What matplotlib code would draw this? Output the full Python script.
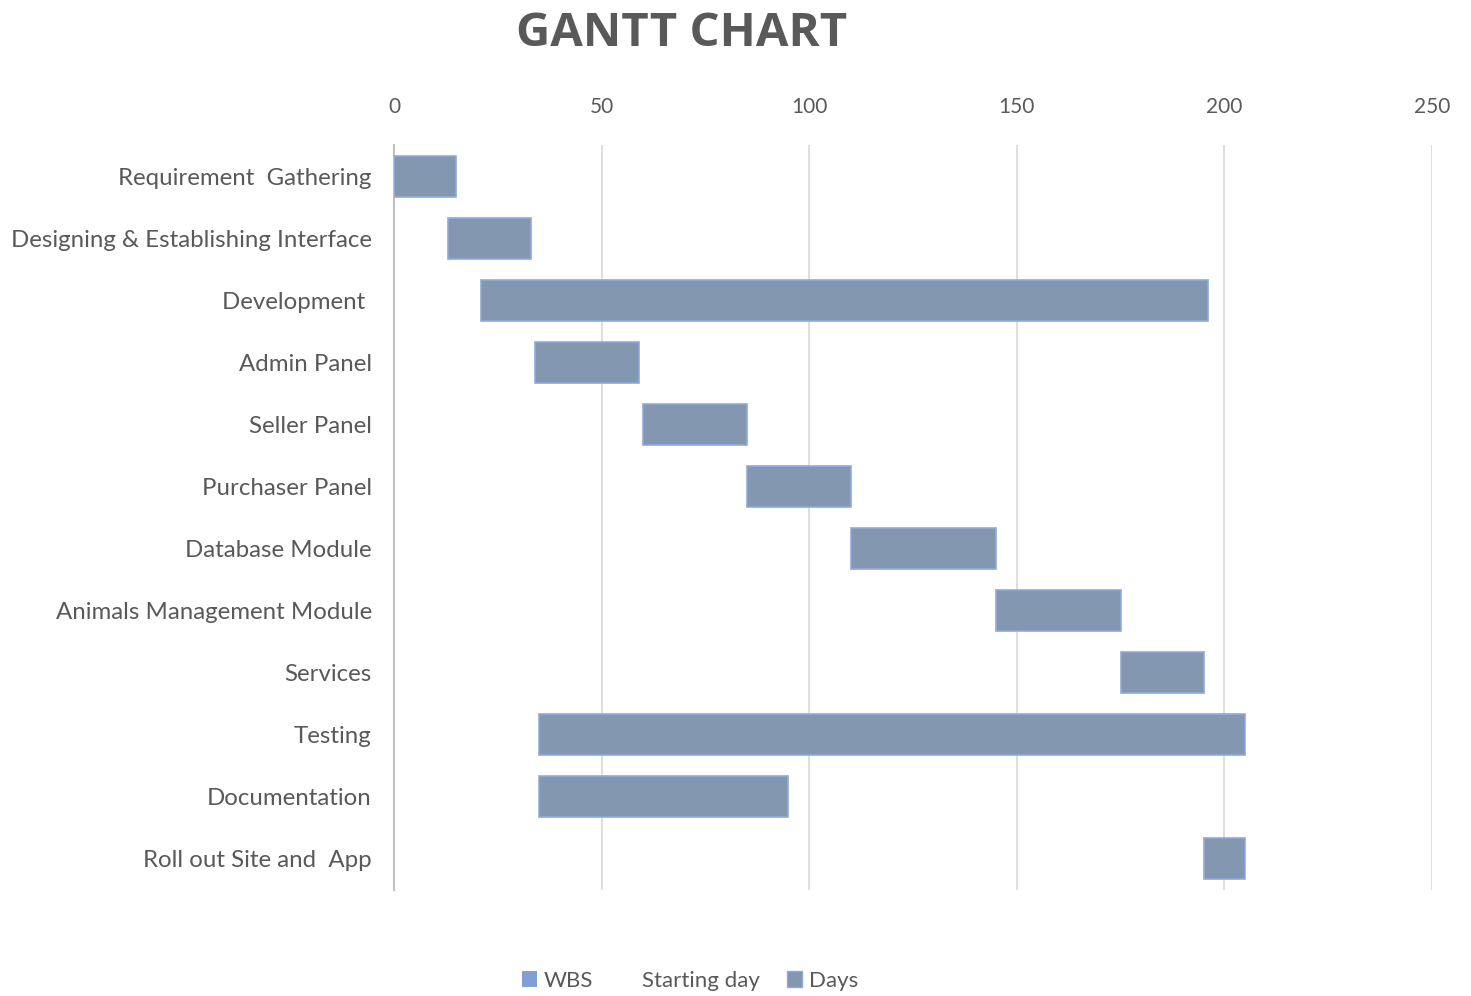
import matplotlib
matplotlib.use("Agg")
import matplotlib.pyplot as plt
from matplotlib.patches import Patch

tasks = ["Requirement  Gathering", "Designing & Establishing Interface", "Development ",
         "Admin Panel", "Seller Panel", "Purchaser Panel", "Database Module",
         "Animals Management Module", "Services", "Testing", "Documentation",
         "Roll out Site and  App"]
start_day = [0, 13, 21, 34, 60, 85, 110, 145, 175, 35, 35, 195]
days = [15, 20, 175, 25, 25, 25, 35, 30, 20, 170, 60, 10]
x_ticks = [0, 50, 100, 150, 200, 250]

plt.rcParams['font.family'] = ['Lato', 'DejaVu Sans']

fig = plt.figure(figsize=(14.71, 9.96), dpi=100)
ax = fig.add_axes([394/1471, 1 - 890/996, (1432-394)/1471, (890-145)/996])

y = list(range(len(tasks)))
ax.barh(y, start_day, height=0.66, color='none', edgecolor='none', label='Starting day')
ax.barh(y, days, left=start_day, height=0.66, color='#8497b0', edgecolor='#8faadc',
        linewidth=1.2, label='Days', zorder=3)

ax.set_xlim(0, 250)
ax.set_ylim(len(tasks) - 0.5, -0.5)
ax.set_xticks(x_ticks)
ax.xaxis.tick_top()
ax.tick_params(axis='x', length=0, pad=20, labelsize=15, labelcolor='#595959')
ax.set_yticks(y)
ax.set_yticklabels(tasks)
ax.tick_params(axis='y', length=0, pad=16, labelsize=17.3, labelcolor='#595959')
ax.grid(axis='x', color='#d9d9d9', linewidth=1.2, zorder=0)
ax.set_axisbelow(True)
for s in ['top', 'right', 'bottom']:
    ax.spines[s].set_visible(False)
ax.spines['left'].set_color('#bfbfbf')
ax.spines['left'].set_linewidth(1.5)

fig.text(682/1471, 1 - 33/996, "GANTT CHART", ha='center', va='center',
         fontsize=34, fontweight='bold', color='#595959', family=['Open Sans', 'DejaVu Sans'])

handles = [Patch(facecolor='#7f9fd6', edgecolor='none', label='WBS'),
           Patch(facecolor='none', edgecolor='none', label='Starting day'),
           Patch(facecolor='#8497b0', edgecolor='#8faadc', label='Days')]
fig.legend(handles=handles, loc='center', bbox_to_anchor=(690/1471, 1 - 981/996), ncol=3,
           frameon=False, fontsize=16, handlelength=0.7, handleheight=0.7,
           handletextpad=0.3, columnspacing=1.2, labelcolor='#595959')

fig.savefig("out.png", dpi=100)
